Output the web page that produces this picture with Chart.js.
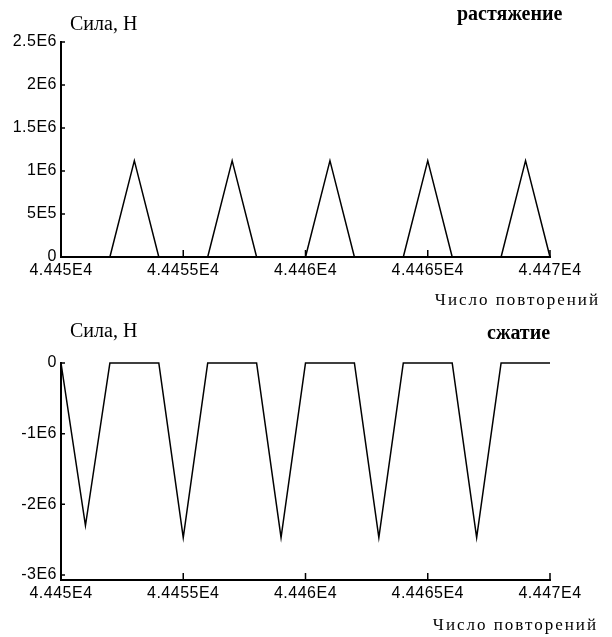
<!DOCTYPE html>
<html><head><meta charset="utf-8">
<script src="https://cdn.jsdelivr.net/npm/chart.js@4.4.1/dist/chart.umd.min.js"></script>
<style>
html,body{margin:0;padding:0;background:#fff;}
#wrap{position:relative;width:612px;height:637px;overflow:hidden;}
.box{position:absolute;left:0;width:612px;}
</style></head><body>
<div id="wrap">
  <div class="box" style="top:0;height:310px"><canvas id="c1" width="612" height="310"></canvas></div>
  <div class="box" style="top:310px;height:327px"><canvas id="c2" width="612" height="327"></canvas></div>
</div>
<script>
// ---- data ----
const xTicks = [44450, 44455, 44460, 44465, 44470];
const xTickLabels = ['4.445E4', '4.4455E4', '4.446E4', '4.4465E4', '4.447E4'];

const topYTicks = [0, 5e5, 1e6, 1.5e6, 2e6, 2.5e6];
const topYTickLabels = ['0', '5E5', '1E6', '1.5E6', '2E6', '2.5E6'];
const topX = [44450, 44452, 44453, 44454, 44456, 44457, 44458, 44460, 44461, 44462, 44464, 44465, 44466, 44468, 44469, 44470];
const topY = [0, 0, 1.12e6, 0, 0, 1.12e6, 0, 0, 1.12e6, 0, 0, 1.12e6, 0, 0, 1.12e6, 0];

const botYTicks = [-3e6, -2e6, -1e6, 0];
const botYTickLabels = ['-3E6', '-2E6', '-1E6', '0'];
const botX = [44450, 44451, 44452, 44454, 44455, 44456, 44458, 44459, 44460, 44462, 44463, 44464, 44466, 44467, 44468, 44470];
const botY = [0, -2.3e6, 0, 0, -2.47e6, 0, 0, -2.47e6, 0, 0, -2.47e6, 0, 0, -2.47e6, 0, 0];

const tickFont = {family: 'Liberation Sans, Arial, sans-serif', size: 16};

const markPlugin = {
  id: 'marks',
  beforeDraw(chart) { chart.ctx.letterSpacing = '0.5px'; },
  afterDraw(chart) {
    const ctx = chart.ctx, a = chart.chartArea;
    const xs = chart.scales.x, ys = chart.scales.y;
    ctx.save();
    ctx.strokeStyle = '#000';
    ctx.lineWidth = 1.5;
    ctx.beginPath();
    xs.ticks.forEach(t => {
      const px = xs.getPixelForValue(t.value);
      ctx.moveTo(px, a.bottom); ctx.lineTo(px, a.bottom - 7);
    });
    ys.ticks.forEach(t => {
      const py = ys.getPixelForValue(t.value);
      ctx.moveTo(a.left, py); ctx.lineTo(a.left + 4, py);
    });
    ctx.stroke();
    const texts = chart.options.plugins.marks.texts || [];
    texts.forEach(t => {
      ctx.font = t.font;
      ctx.fillStyle = '#000';
      ctx.textAlign = t.align || 'left';
      ctx.textBaseline = 'alphabetic';
      ctx.letterSpacing = t.spacing || '0px';
      ctx.fillText(t.text, t.x, t.y);
    });
    ctx.restore();
  }
};

function makeChart(id, xs, ys, yTicks, yLabels, yMin, yMax, g, texts) {
  return new Chart(document.getElementById(id), {
    type: 'line',
    data: {
      datasets: [{
        data: xs.map((x, i) => ({x: x, y: ys[i]})),
        borderColor: '#000', borderWidth: 1.5, pointRadius: 0, tension: 0, fill: false, clip: false
      }]
    },
    options: {
      responsive: false, animation: false,
      layout: {padding: {left: 0, right: 612 - g.right, top: g.top, bottom: 0}},
      plugins: {legend: {display: false}, tooltip: {enabled: false}, marks: {texts: texts}},
      scales: {
        x: {
          type: 'linear', min: 44450, max: 44470,
          afterBuildTicks: s => { s.ticks = xTicks.map(v => ({value: v})); },
          afterFit: s => { s.height = g.H - g.bottom; },
          grid: {display: false, drawTicks: false},
          border: {display: true, color: '#000', width: 2},
          ticks: {autoSkip: false, maxRotation: 0, color: '#000', font: tickFont, padding: 4,
                  callback: (v, i) => xTickLabels[i]}
        },
        y: {
          type: 'linear', min: yMin, max: yMax,
          afterBuildTicks: s => { s.ticks = yTicks.map(v => ({value: v})); },
          afterFit: s => { s.width = g.left; },
          grid: {display: false, drawTicks: false},
          border: {display: true, color: '#000', width: 2},
          ticks: {autoSkip: false, color: '#000', font: tickFont, padding: 4,
                  callback: (v, i) => yLabels[i]}
        }
      }
    },
    plugins: [markPlugin]
  });
}

const serif = 'Liberation Serif, Times New Roman, serif';
makeChart('c1', topX, topY, topYTicks, topYTickLabels, 0, 2.5e6,
  {left: 61, right: 550, top: 42, bottom: 257, H: 310},
  [
    {text: 'Сила, Н', x: 70, y: 30, font: '20px ' + serif},
    {text: 'растяжение', x: 457, y: 20, font: 'bold 20px ' + serif},
    {text: 'Число повторений', x: 600, y: 305, font: '17px ' + serif, align: 'right', spacing: '2px'}
  ]);

makeChart('c2', botX, botY, botYTicks, botYTickLabels, -3.07e6, 0,
  {left: 61, right: 550, top: 53, bottom: 270, H: 327},
  [
    {text: 'Сила, Н', x: 70, y: 27, font: '20px ' + serif},
    {text: 'сжатие', x: 487, y: 29, font: 'bold 20px ' + serif},
    {text: 'Число повторений', x: 598, y: 320, font: '17px ' + serif, align: 'right', spacing: '2px'}
  ]);
</script>
</body></html>
